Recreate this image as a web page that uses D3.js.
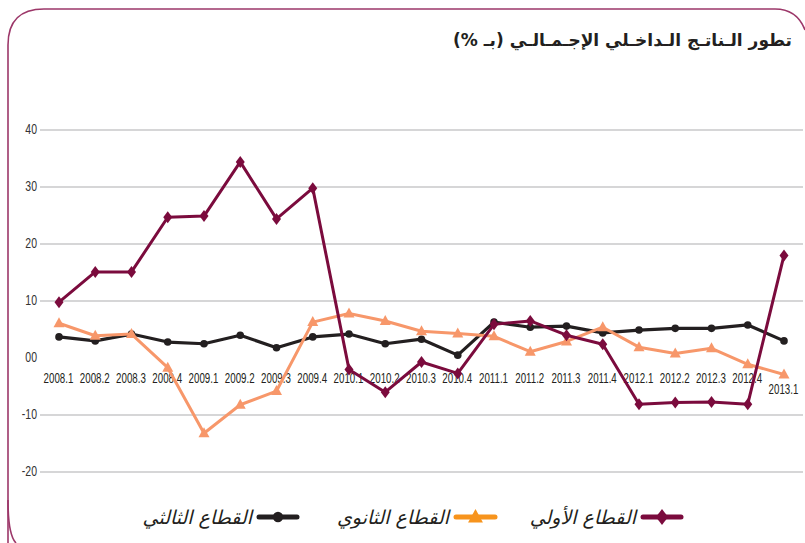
<!DOCTYPE html>
<html><head><meta charset="utf-8">
<script src="https://cdn.jsdelivr.net/npm/d3@7"></script>
<style>
body{margin:0;background:#fff;}
svg{display:block;}
</style></head>
<body>
<svg id="c" width="805" height="543"></svg>
<script>
const categories = ["2008.1","2008.2","2008.3","2008.4","2009.1","2009.2","2009.3","2009.4","2010.1","2010.2","2010.3","2010.4","2011.1","2011.2","2011.3","2011.4","2012.1","2012.2","2012.3","2012.4","2013.1"];
const primary   = [9.8,15.1,15.1,24.7,24.9,34.4,24.4,29.8,-2.0,-6.0,-0.7,-2.7,5.9,6.5,4.0,2.4,-8.1,-7.8,-7.7,-8.1,18.0];
const secondary = [6.1,3.9,4.2,-1.7,-13.2,-8.2,-5.8,6.3,7.8,6.5,4.7,4.3,3.8,1.1,2.9,5.4,1.9,0.8,1.7,-1.1,-2.9];
const tertiary  = [3.7,3.0,4.2,2.8,2.5,4.0,1.8,3.7,4.2,2.5,3.3,0.5,6.3,5.4,5.6,4.4,4.9,5.2,5.2,5.8,3.0];
const yTicks = [40,30,20,10,0,-10,-20];
const yTickLabels = ["40","30","20","10","00","-10","-20"];
const title = "تطور الـناتـج الـداخـلي الإجـمـالـي (بـ %)";
const legendNames = ["القطاع الأولي","القطاع الثانوي","القطاع الثالثي"];

const svg = d3.select("#c");
const x = d3.scalePoint().domain(categories).range([59,784]);
const y = d3.scaleLinear().domain([-20,40]).range([472,130]);

// frame
svg.append("path")
  .attr("d","M8,543 L8,45 Q8,9 44,9 L775,9 Q797,9 805,30")
  .attr("fill","none").attr("stroke","#9c3769").attr("stroke-width",1.6);
svg.append("path")
  .attr("d","M8,500 Q8,535 16,543")
  .attr("fill","none").attr("stroke","#9c3769").attr("stroke-width",1.6);

// title
svg.append("text").attr("x",792).attr("y",46).attr("text-anchor","start")
  .attr("direction","rtl")
  .style("font-family","'DejaVu Sans', sans-serif").style("font-size","17px")
  .style("font-weight","bold").attr("fill","#231f20").text(title);

const fontC = "'Liberation Sans',Arial,sans-serif";
// y labels
const yAxis = d3.axisLeft(y).tickValues(yTicks).tickSize(0).tickPadding(0)
  .tickFormat((d,i)=>yTickLabels[i]);
const ga = svg.append("g").attr("transform","translate(37,0)").call(yAxis);
ga.select(".domain").remove();
ga.selectAll("text").style("font-family",fontC).style("font-size","15px").attr("fill","#333").attr("dy","0.2em")
  .attr("transform","scale(0.7,1)");
// grid
svg.append("g").selectAll("line").data(yTicks.filter(d=>d!==0)).join("line")
  .attr("x1",40).attr("x2",803).attr("y1",d=>y(d)).attr("y2",d=>y(d))
  .attr("stroke","#c8c8ca").attr("stroke-width",1.5);

// x labels
const xAxis = d3.axisBottom(x).tickSize(0).tickPadding(0);
const gx = svg.append("g").attr("transform","translate(-1,372)").call(xAxis);
gx.select(".domain").remove();
gx.selectAll("text").style("font-family",fontC).style("font-size","15px").attr("fill","#231f20")
  .attr("dy",d=>d==="2013.1"?"1.45em":"0.72em")
  .attr("transform","scale(0.65,1)");

const line = d3.line().x((d,i)=>x(categories[i])).y(d=>y(d));
const cMar="#7b0b3d", cOr="#f7976a", cBl="#231f20";

function diamond(g,cx,cy,col,s){
  g.append("path").attr("d",`M${cx},${cy-6*s} L${cx+4.5*s},${cy} L${cx},${cy+6*s} L${cx-4.5*s},${cy} Z`).attr("fill",col);
}
function tri(g,cx,cy,col,s){
  g.append("path").attr("d",`M${cx},${cy-6*s} L${cx+5.5*s},${cy+4*s} L${cx-5.5*s},${cy+4*s} Z`).attr("fill",col);
}
function dot(g,cx,cy,col,s){
  g.append("circle").attr("cx",cx).attr("cy",cy).attr("r",3.8*s).attr("fill",col);
}

// tertiary
const gT = svg.append("g");
gT.append("path").datum(tertiary).attr("d",line).attr("fill","none").attr("stroke",cBl).attr("stroke-width",3.2).attr("stroke-linejoin","round");
tertiary.forEach((v,i)=>dot(gT,x(categories[i]),y(v),cBl,1));
// secondary
const gS = svg.append("g");
gS.append("path").datum(secondary).attr("d",line).attr("fill","none").attr("stroke",cOr).attr("stroke-width",3).attr("stroke-linejoin","round");
secondary.forEach((v,i)=>tri(gS,x(categories[i]),y(v),cOr,1));
// primary
const gP = svg.append("g");
gP.append("path").datum(primary).attr("d",line).attr("fill","none").attr("stroke",cMar).attr("stroke-width",3).attr("stroke-linejoin","round");
primary.forEach((v,i)=>diamond(gP,x(categories[i]),y(v),cMar,1));

// legend
const leg = svg.append("g");
const legItems = [
  {name:legendNames[0], col:cMar, mk:diamond, x0:643, x1:681},
  {name:legendNames[1], col:"#f7941d", mk:tri, x0:456, x1:495},
  {name:legendNames[2], col:cBl, mk:dot, x0:259, x1:297}
];
legItems.forEach(it=>{
  leg.append("line").attr("x1",it.x0).attr("x2",it.x1).attr("y1",517).attr("y2",517)
    .attr("stroke",it.col).attr("stroke-width",5).attr("stroke-linecap","round");
  it.mk(leg,(it.x0+it.x1)/2,517,it.col,1.35);
  leg.append("text").attr("x",it.x0-7).attr("y",524).attr("text-anchor","end")
    .style("font-family","'DejaVu Sans',sans-serif").style("font-size","19px").style("font-style","italic")
    .attr("fill","#231f20").text(it.name);
});
</script>
</body></html>
